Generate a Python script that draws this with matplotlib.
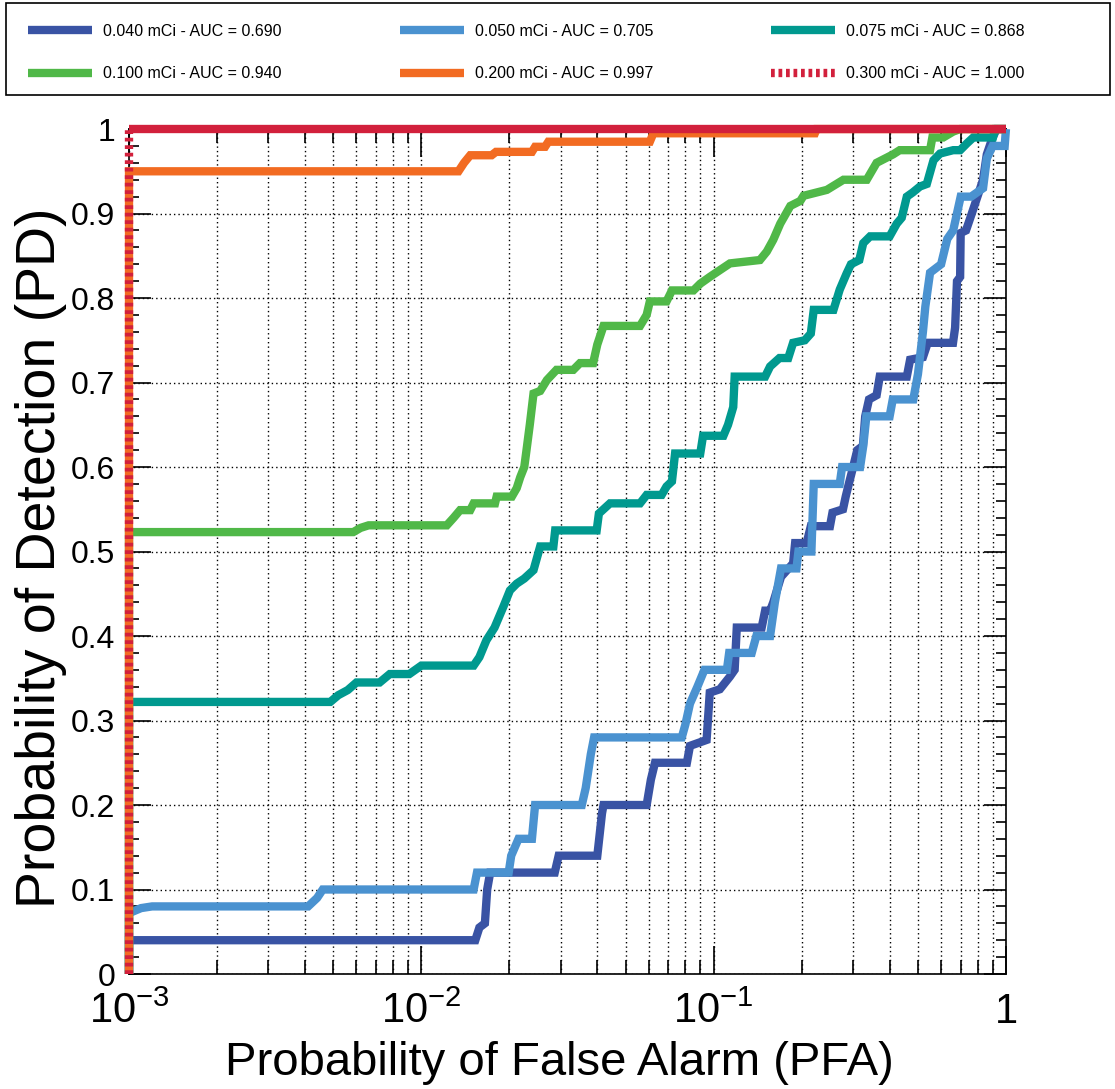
import matplotlib
matplotlib.use("Agg")
import matplotlib.pyplot as plt
from matplotlib.ticker import FixedLocator, LogLocator, MultipleLocator, NullFormatter
from matplotlib.patches import Rectangle

plt.rcParams["font.family"] = ["Liberation Sans", "DejaVu Sans"]
plt.rcParams["mathtext.fontset"] = "custom"
plt.rcParams["mathtext.rm"] = "Liberation Sans"
plt.rcParams["mathtext.it"] = "Liberation Sans:italic"
plt.rcParams["mathtext.bf"] = "Liberation Sans:bold"

# ROC curves (false alarm prob, detection prob)
fpr_040 = [0.001, 0.001, 0.0153, 0.0158, 0.0165, 0.0168, 0.0172, 0.0286, 0.0295, 0.040, 0.0415,
           0.042, 0.059, 0.061, 0.063, 0.081, 0.083, 0.0946, 0.097, 0.105, 0.1137, 0.118, 0.120,
           0.146, 0.150, 0.156, 0.160, 0.170, 0.187, 0.190, 0.208, 0.215, 0.250, 0.255, 0.277,
           0.283, 0.290, 0.300, 0.310, 0.324, 0.330, 0.340, 0.361, 0.370, 0.458, 0.470, 0.520,
           0.540, 0.659, 0.670, 0.680, 0.697, 0.700, 0.730, 0.764, 0.835, 0.860, 0.900, 0.930, 1.0]
tpr_040 = [0.0, 0.04, 0.04, 0.055, 0.06, 0.10, 0.12, 0.12, 0.14, 0.14, 0.19,
           0.20, 0.20, 0.23, 0.25, 0.25, 0.27, 0.277, 0.333, 0.337, 0.352, 0.36, 0.41,
           0.41, 0.43, 0.43, 0.44, 0.47, 0.486, 0.51, 0.51, 0.53, 0.53, 0.546, 0.55,
           0.565, 0.58, 0.60, 0.62, 0.625, 0.66, 0.68, 0.685, 0.707, 0.707, 0.727, 0.73,
           0.747, 0.747, 0.765, 0.82, 0.825, 0.877, 0.88, 0.90, 0.94, 0.97, 0.99, 1.0, 1.0]

fpr_050 = [0.001, 0.001, 0.0011, 0.0012, 0.0041, 0.0044, 0.0046, 0.0151, 0.0155, 0.0199, 0.0203,
           0.0215, 0.0239, 0.0245, 0.0354, 0.0365, 0.038, 0.039, 0.0778, 0.080, 0.083, 0.088,
           0.093, 0.111, 0.113, 0.135, 0.140, 0.156, 0.162, 0.170, 0.192, 0.195, 0.216, 0.220,
           0.270, 0.275, 0.317, 0.325, 0.333, 0.400, 0.410, 0.482, 0.500, 0.520, 0.530, 0.550,
           0.600, 0.630, 0.660, 0.700, 0.760, 0.835, 0.860, 0.900, 0.990, 1.0]
tpr_050 = [0.0, 0.072, 0.078, 0.08, 0.08, 0.09, 0.10, 0.10, 0.12, 0.12, 0.14,
           0.16, 0.16, 0.20, 0.20, 0.22, 0.26, 0.28, 0.28, 0.295, 0.32, 0.34,
           0.36, 0.36, 0.38, 0.38, 0.40, 0.40, 0.44, 0.48, 0.48, 0.50, 0.50, 0.58,
           0.58, 0.60, 0.60, 0.625, 0.66, 0.66, 0.68, 0.68, 0.71, 0.76, 0.79, 0.83,
           0.84, 0.87, 0.88, 0.92, 0.92, 0.93, 0.965, 0.98, 0.98, 1.0]

fpr_075 = [0.001, 0.001, 0.00488, 0.0052, 0.0056, 0.0060, 0.0072, 0.0078, 0.0091, 0.0100, 0.0151,
           0.0158, 0.0167, 0.0178, 0.0191, 0.0201, 0.0212, 0.0225, 0.0242, 0.0255, 0.0283,
           0.0287, 0.0398, 0.0405, 0.0442, 0.056, 0.059, 0.0664, 0.069, 0.072, 0.0738, 0.090,
           0.092, 0.108, 0.112, 0.1167, 0.118, 0.150, 0.156, 0.168, 0.180, 0.187, 0.205, 0.215,
           0.220, 0.257, 0.270, 0.285, 0.295, 0.315, 0.325, 0.343, 0.400, 0.423, 0.440, 0.458,
           0.480, 0.508, 0.536, 0.565, 0.595, 0.660, 0.697, 0.735, 0.773, 0.903, 0.920, 1.0]
tpr_075 = [0.0, 0.322, 0.322, 0.33, 0.336, 0.345, 0.345, 0.355, 0.355, 0.365, 0.365,
           0.375, 0.395, 0.41, 0.435, 0.454, 0.462, 0.468, 0.478, 0.506, 0.506,
           0.525, 0.525, 0.545, 0.557, 0.557, 0.567, 0.567, 0.577, 0.583, 0.616, 0.616,
           0.637, 0.637, 0.65, 0.671, 0.707, 0.707, 0.719, 0.729, 0.729, 0.747, 0.75, 0.758,
           0.786, 0.786, 0.81, 0.829, 0.84, 0.845, 0.865, 0.873, 0.873, 0.888, 0.895, 0.92,
           0.925, 0.932, 0.935, 0.963, 0.971, 0.975, 0.975, 0.983, 0.99, 0.99, 1.0, 1.0]

fpr_100 = [0.001, 0.001, 0.00585, 0.0062, 0.0066, 0.01222, 0.0129, 0.01357, 0.0147, 0.0151, 0.01787,
           0.0181, 0.0204, 0.0212, 0.0218, 0.0225, 0.0229, 0.0235, 0.0242, 0.0255, 0.0269,
           0.029, 0.0331, 0.0349, 0.0387, 0.040, 0.042, 0.056, 0.059, 0.0605, 0.069, 0.072,
           0.0853, 0.090, 0.097, 0.105, 0.1137, 0.144, 0.152, 0.160, 0.169, 0.183, 0.198, 0.203,
           0.244, 0.278, 0.334, 0.361, 0.411, 0.433, 0.550, 0.560, 0.610, 0.660, 0.697, 1.0]
tpr_100 = [0.0, 0.523, 0.523, 0.528, 0.531, 0.531, 0.54, 0.549, 0.549, 0.557, 0.557,
           0.565, 0.565, 0.575, 0.588, 0.60, 0.62, 0.65, 0.687, 0.69, 0.703,
           0.715, 0.715, 0.723, 0.723, 0.745, 0.767, 0.767, 0.78, 0.796, 0.796, 0.809,
           0.809, 0.817, 0.825, 0.833, 0.841, 0.845, 0.855, 0.869, 0.888, 0.909, 0.915, 0.921,
           0.928, 0.94, 0.94, 0.96, 0.97, 0.975, 0.975, 0.99, 0.99, 0.997, 1.0, 1.0]

fpr_200 = [0.001, 0.001, 0.0134, 0.0140, 0.0147, 0.0174, 0.0180, 0.0239, 0.0245, 0.0265, 0.0272,
           0.0605, 0.0622, 0.222, 0.225, 1.0]
tpr_200 = [0.0, 0.95, 0.95, 0.96, 0.969, 0.969, 0.973, 0.973, 0.979, 0.979, 0.985,
           0.985, 0.995, 0.995, 1.0, 1.0]

fpr_300 = [0.001, 0.001, 1.0]
tpr_300 = [0.0, 1.0, 1.0]

labels = ["0.040 mCi - AUC = 0.690", "0.050 mCi - AUC = 0.705", "0.075 mCi - AUC = 0.868",
          "0.100 mCi - AUC = 0.940", "0.200 mCi - AUC = 0.997", "0.300 mCi - AUC = 1.000"]
colors = ["#3953A4", "#4A92D0", "#00998F", "#50B848", "#F26B22", "#D2203C"]

x_ticks = [0.001, 0.01, 0.1, 1.0]
x_ticklabels = ["$10^{-3}$", "$10^{-2}$", "$10^{-1}$", "1"]
y_ticks = [0.0, 0.1, 0.2, 0.3, 0.4, 0.5, 0.6, 0.7, 0.8, 0.9, 1.0]
y_ticklabels = ["0", "0.1", "0.2", "0.3", "0.4", "0.5", "0.6", "0.7", "0.8", "0.9", "1"]

fig = plt.figure(figsize=(11.15, 10.89), dpi=100)
ax = fig.add_axes([0.1157, 0.1056, 0.7865, 0.7759])

lw = 6.0
series = [(fpr_040, tpr_040), (fpr_050, tpr_050), (fpr_075, tpr_075),
          (fpr_100, tpr_100), (fpr_200, tpr_200)]
handles = []
for (fx, ty), lab, col in zip(series, labels[:5], colors[:5]):
    h, = ax.plot(fx, ty, color=col, lw=lw, label=lab, clip_on=False, zorder=3,
                 solid_joinstyle="miter", solid_capstyle="butt")
    handles.append(h)

# 0.300 mCi: dashed vertical part, the long top part looks solid in the original
h, = ax.plot(fpr_300[:2], tpr_300[:2], color=colors[5], lw=lw, ls=(0, (0.45, 0.45)),
             label=labels[5], clip_on=False, zorder=4, dash_capstyle="butt")
ax.plot(fpr_300[1:], tpr_300[1:], color=colors[5], lw=lw, clip_on=False, zorder=4,
        solid_capstyle="butt")
handles.append(h)

ax.set_xscale("log")
ax.set_xlim(1e-3, 1)
ax.set_ylim(0, 1)

ax.xaxis.set_major_locator(FixedLocator(x_ticks))
ax.set_xticklabels(x_ticklabels)
ax.xaxis.set_minor_locator(LogLocator(base=10, subs=range(2, 10)))
ax.xaxis.set_minor_formatter(NullFormatter())
ax.yaxis.set_major_locator(FixedLocator(y_ticks))
ax.set_yticklabels(y_ticklabels)
ax.yaxis.set_minor_locator(MultipleLocator(0.02))

ax.tick_params(which="both", direction="in", top=True, right=True, width=1.2, color="black")
ax.tick_params(axis="x", which="major", length=20, labelsize=30, pad=13)
ax.tick_params(axis="x", which="minor", length=10)
ax.tick_params(axis="y", which="major", length=16, labelsize=23, pad=10)
ax.tick_params(axis="y", which="minor", length=7)

dots = (0, (1, 2.2))
ax.grid(which="major", color="black", ls=dots, lw=1.0)
ax.xaxis.grid(which="minor", color="black", ls=dots, lw=1.0)
for sp in ax.spines.values():
    sp.set_linewidth(1.2)

ax.set_xlabel("Probability of False Alarm (PFA)", fontsize=34)
ax.set_ylabel("Probability of Detection (PD)", fontsize=40)
ax.xaxis.set_label_coords(0.491, -0.079)
ax.xaxis.label.set_va("top")
ax.yaxis.set_label_coords(-0.071, 0.493)

# legend box across the top of the figure, entries laid out row by row
order = [0, 3, 1, 4, 2, 5]
fig.patches.append(Rectangle((6 / 1115, 1 - 95 / 1089), 1104 / 1115, 92 / 1089,
                             transform=fig.transFigure, fill=False, edgecolor="black", lw=1.2))
fig.legend([handles[i] for i in order], [labels[i] for i in order],
           loc="upper left", bbox_to_anchor=(28 / 1115, 1 - 24 / 1089), ncol=3,
           frameon=False, fontsize=11.5, handlelength=4.0, handletextpad=0.7,
           columnspacing=7.4, labelspacing=1.7, borderpad=0, borderaxespad=0)

fig.savefig("out.png", dpi=100)
